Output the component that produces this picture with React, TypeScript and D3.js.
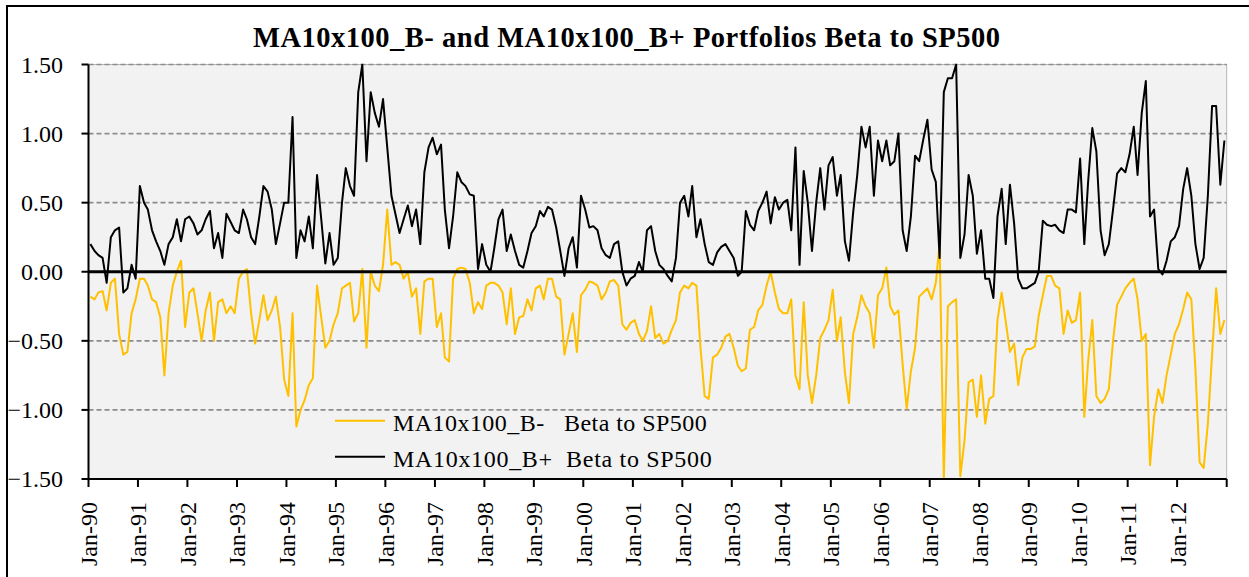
import React from 'react';
import * as d3 from 'd3';

// Monthly readings, Jan-1990 .. Dec-2012
const START_YEAR = 1990;
const betaPlus: number[] = [
  0.2, 0.15, 0.12, 0.1, -0.08, 0.25, 0.3, 0.32, -0.15, -0.12, 0.05, -0.05,
  0.62, 0.5, 0.45, 0.3, 0.22, 0.15, 0.05, 0.2, 0.25, 0.38, 0.22, 0.38,
  0.4, 0.35, 0.27, 0.3, 0.38, 0.44, 0.17, 0.28, 0.1, 0.42, 0.36, 0.3,
  0.28, 0.45, 0.38, 0.25, 0.2, 0.4, 0.62, 0.58, 0.45, 0.2, 0.35, 0.5,
  0.5, 1.12, 0.1, 0.3, 0.22, 0.4, 0.17, 0.7, 0.38, 0.06, 0.28, 0.05,
  0.1, 0.5, 0.75, 0.62, 0.55, 1.3, 1.5, 0.8, 1.3, 1.15, 1.05, 1.25,
  0.9, 0.55, 0.42, 0.28, 0.38, 0.48, 0.33, 0.45, 0.2, 0.72, 0.9, 0.97,
  0.85, 0.92, 0.45, 0.17, 0.4, 0.72, 0.65, 0.62, 0.56, 0.55, 0.02, 0.2,
  0.05, 0.0, 0.17, 0.38, 0.45, 0.15, 0.27, 0.15, 0.05, 0.03, 0.15, 0.28,
  0.33, 0.44, 0.4, 0.47, 0.45, 0.32, 0.15, -0.03, 0.17, 0.25, 0.03, 0.55,
  0.45, 0.32, 0.33, 0.3, 0.17, 0.12, 0.1, 0.2, 0.22, 0.0, -0.1, -0.05,
  -0.03, 0.07, 0.0, 0.3, 0.33, 0.15, 0.05, 0.02, -0.03, -0.07, 0.1, 0.5,
  0.55, 0.4, 0.62, 0.25, 0.38, 0.2, 0.07, 0.05, 0.14, 0.18, 0.2, 0.15,
  0.1, -0.03, 0.0, 0.44, 0.34, 0.3, 0.44, 0.5, 0.58, 0.35, 0.54, 0.45,
  0.5, 0.52, 0.3, 0.9, 0.05, 0.73, 0.5, 0.15, 0.5, 0.75, 0.45, 0.77,
  0.83, 0.55, 0.7, 0.22, 0.08, 0.43, 0.7, 1.05, 0.9, 1.05, 0.55, 0.95,
  0.8, 0.95, 0.77, 0.8, 1.0, 0.3, 0.15, 0.4, 0.84, 0.8, 0.96, 1.1,
  0.74, 0.65, 0.1, 1.3, 1.4, 1.4, 1.5, 0.1, 0.27, 0.7, 0.55, 0.13,
  0.3, -0.05, -0.05, -0.19, 0.4, 0.6, 0.2, 0.63, 0.35, -0.05, -0.12, -0.12,
  -0.1, -0.08, 0.0, 0.37, 0.34, 0.33, 0.34, 0.3, 0.28, 0.45, 0.45, 0.43,
  0.82, 0.2, 0.65, 1.04, 0.87, 0.3, 0.12, 0.2, 0.45, 0.71, 0.75, 0.72,
  0.85, 1.05, 0.7, 1.15, 1.38, 0.4, 0.45, 0.02, -0.02, 0.08, 0.22, 0.25,
  0.33, 0.6, 0.75, 0.55, 0.2, 0.02, 0.1, 0.55, 1.2, 1.2, 0.63, 0.95,
];
const betaMinus: number[] = [
  -0.18, -0.2, -0.15, -0.14, -0.28, -0.08, -0.05, -0.45, -0.6, -0.58, -0.3, -0.2,
  -0.05, -0.05, -0.1, -0.2, -0.22, -0.33, -0.75, -0.3, -0.1, 0.0, 0.08, -0.4,
  -0.15, -0.12, -0.3, -0.5, -0.28, -0.15, -0.5, -0.22, -0.2, -0.3, -0.25, -0.3,
  -0.05, 0.0, 0.02, -0.3, -0.52, -0.35, -0.17, -0.35, -0.28, -0.18, -0.4, -0.78,
  -0.9, -0.3, -1.12, -1.0, -0.93, -0.82, -0.77, -0.1, -0.33, -0.55, -0.5, -0.38,
  -0.3, -0.12, -0.1, -0.08, -0.36, -0.3, 0.02, -0.55, 0.0, -0.1, -0.14, 0.05,
  0.45, 0.05, 0.07, 0.05, -0.05, 0.0, -0.18, -0.12, -0.45, -0.07, -0.05, -0.05,
  -0.4, -0.3, -0.62, -0.65, -0.05, 0.02, 0.03, 0.02, -0.08, -0.3, -0.22, -0.27,
  -0.1, -0.08, -0.08, -0.1, -0.15, -0.38, -0.12, -0.45, -0.33, -0.32, -0.2, -0.28,
  -0.12, -0.1, -0.2, -0.05, -0.05, -0.18, -0.2, -0.6, -0.45, -0.3, -0.58, -0.17,
  -0.13, -0.07, -0.08, -0.1, -0.2, -0.15, -0.07, -0.06, -0.1, -0.38, -0.42, -0.37,
  -0.35, -0.45, -0.5, -0.43, -0.25, -0.48, -0.45, -0.52, -0.5, -0.42, -0.35, -0.15,
  -0.1, -0.12, -0.08, -0.1, -0.55, -0.9, -0.92, -0.62, -0.6, -0.55, -0.47, -0.45,
  -0.55, -0.68, -0.72, -0.7, -0.42, -0.4, -0.28, -0.24, -0.1, 0.0, -0.15, -0.27,
  -0.3, -0.3, -0.2, -0.75, -0.85, -0.22, -0.75, -0.95, -0.75, -0.48, -0.42, -0.35,
  -0.13, -0.5, -0.33, -0.73, -0.95, -0.45, -0.33, -0.17, -0.25, -0.3, -0.55, -0.17,
  -0.12, 0.03, -0.25, -0.31, -0.28, -0.67, -0.99, -0.72, -0.55, -0.18, -0.15, -0.12,
  -0.2, -0.08, 0.2, -1.5, -0.25, -0.22, -0.2, -1.48, -1.22, -0.8, -0.78, -1.05,
  -0.75, -1.1, -0.92, -0.9, -0.35, -0.15, -0.36, -0.58, -0.52, -0.82, -0.62, -0.56,
  -0.56, -0.54, -0.32, -0.17, -0.03, -0.03, -0.1, -0.12, -0.45, -0.28, -0.37, -0.35,
  -0.15, -1.05, -0.65, -0.35, -0.9, -0.95, -0.92, -0.85, -0.5, -0.24, -0.18, -0.12,
  -0.08, -0.05, -0.2, -0.5, -0.45, -1.4, -1.05, -0.85, -0.95, -0.75, -0.6, -0.45,
  -0.38, -0.27, -0.15, -0.2, -0.7, -1.38, -1.42, -1.1, -0.6, -0.12, -0.45, -0.35,
];
const yTicks: number[] = [1.5, 1.0, 0.5, 0.0, -0.5, -1.0, -1.5];
const gridValues: number[] = [1.5, 1.0, 0.5, -0.5, -1.0];
const tickYears: number[] = d3.range(1990, 2014);
const labelYears: number[] = d3.range(1990, 2013);
const seriesNames: string[] = ['MA10x100_B-   Beta to SP500', 'MA10x100_B+  Beta to SP500'];
const seriesColors: string[] = ['#FFC000', '#000000'];
const title = 'MA10x100_B- and MA10x100_B+ Portfolios Beta to SP500';

const W = 1249;
const H = 577;
const PL = 88.5;
const PR = 1226.7;
const PT = 64.5;
const PB = 479;
const FONT = '"Liberation Serif", "Times New Roman", serif';

export default function App() {
  const x = d3
    .scaleTime()
    .domain([new Date(START_YEAR, 0, 1), new Date(2013, 0, 1)])
    .range([PL, PR]);
  const y = d3.scaleLinear().domain([-1.5, 1.5]).range([PB, PT]);
  const dateOf = (i: number) => new Date(START_YEAR, i, 15);
  const line = d3
    .line<number>()
    .x((_, i) => x(dateOf(i)))
    .y((d) => y(d));

  return (
    <svg
      width={W}
      height={H}
      style={{ position: 'absolute', left: 0, top: 0, background: '#fff' }}
      fontFamily={FONT}
    >
      <defs>
        <clipPath id="plotClip">
          <rect x={PL} y={PT - 1} width={PR - PL} height={PB - PT + 2} />
        </clipPath>
      </defs>
      <rect x={7} y={6} width={1400} height={800} fill="#fff" stroke="#000" strokeWidth={2} />
      <rect x={PL} y={PT} width={PR - PL} height={PB - PT} fill="#f2f2f2" stroke="#b8b8b8" strokeWidth={1} />
      {gridValues.map((v) => (
        <line
          key={'g' + v}
          x1={PL}
          x2={PR}
          y1={y(v)}
          y2={y(v)}
          stroke="#8c8c8c"
          strokeWidth={1.6}
          strokeDasharray="5,3"
        />
      ))}
      <g clipPath="url(#plotClip)" fill="none" strokeLinejoin="round">
        <path d={line(betaMinus) || ''} stroke={seriesColors[0]} strokeWidth={2} />
        <path d={line(betaPlus) || ''} stroke={seriesColors[1]} strokeWidth={2} />
      </g>
      <line x1={PL} x2={PR} y1={y(0)} y2={y(0)} stroke="#000" strokeWidth={3} />
      <line x1={PL} x2={PL} y1={PT} y2={PB} stroke="#000" strokeWidth={2} />
      <line x1={PL - 1} x2={PR} y1={PB} y2={PB} stroke="#000" strokeWidth={2} />
      {yTicks.map((v) => (
        <g key={'y' + v}>
          <line x1={PL - 7} x2={PL} y1={y(v)} y2={y(v)} stroke="#000" strokeWidth={2} />
          <text x={63} y={y(v) + 8} textAnchor="end" fontSize={24} fill="#000">
            {d3.format('.2f')(v)}
          </text>
        </g>
      ))}
      {tickYears.map((yr) => (
        <line
          key={'t' + yr}
          x1={x(new Date(yr, 0, 1))}
          x2={x(new Date(yr, 0, 1))}
          y1={PB}
          y2={PB + 8}
          stroke="#000"
          strokeWidth={2}
        />
      ))}
      {labelYears.map((yr) => {
        const tx = x(new Date(yr, 0, 1)) + 8.5;
        return (
          <text
            key={'l' + yr}
            transform={`translate(${tx},502) rotate(-90)`}
            textAnchor="end"
            fontSize={24}
            fill="#000"
          >
            {d3.timeFormat('Jan-%y')(new Date(yr, 0, 1))}
          </text>
        );
      })}
      <text
        x={626.5}
        y={46.5}
        textAnchor="middle"
        fontSize={28.5}
        fontWeight="bold"
        fill="#000"
        textLength={747}
        lengthAdjust="spacing"
      >
        {title}
      </text>
      {seriesNames.map((name, i) => (
        <g key={'lg' + i}>
          <line x1={335} x2={385} y1={420.7 + i * 36} y2={420.7 + i * 36} stroke={seriesColors[i]} strokeWidth={2} />
          <text
            x={393}
            y={431 + i * 36.3}
            fontSize={24}
            fill="#000"
            style={{ whiteSpace: 'pre' }}
            textLength={i === 0 ? 313.7 : 318.7}
            lengthAdjust="spacing"
          >
            {name}
          </text>
        </g>
      ))}
    </svg>
  );
}
